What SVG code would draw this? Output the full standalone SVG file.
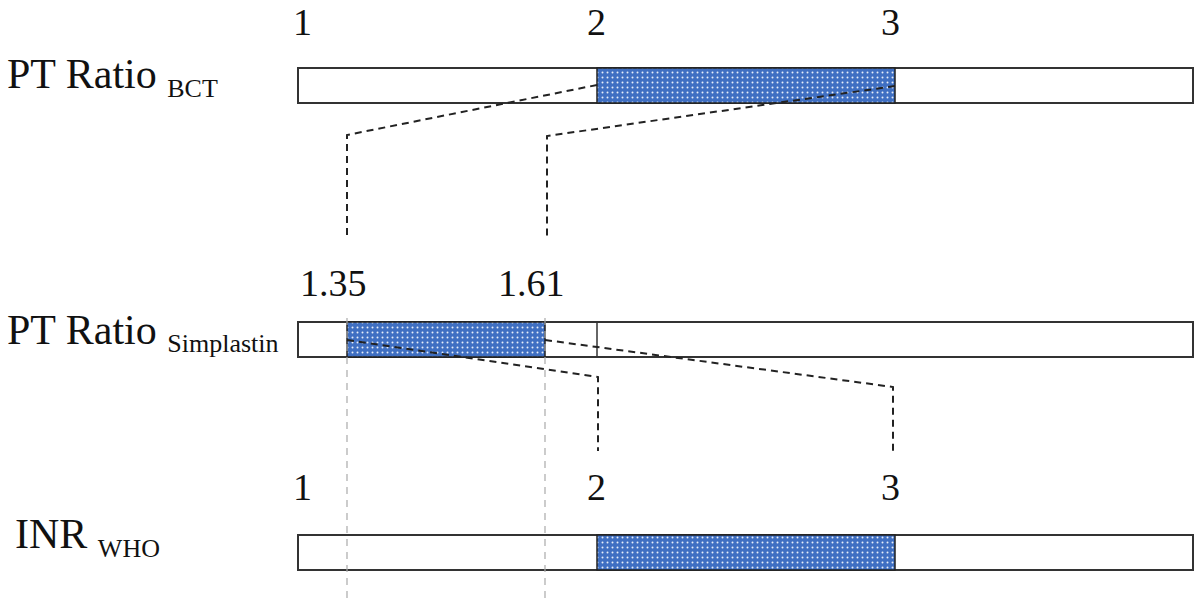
<svg xmlns="http://www.w3.org/2000/svg" width="1200" height="599" viewBox="0 0 1200 599">
<style>
.bar{fill:#fff;stroke:#333;stroke-width:2}
.fill{fill:url(#dots);stroke:#222;stroke-width:1.5}
.t{font-family:"Liberation Serif",serif;font-size:42px;fill:#111}
.n{font-family:"Liberation Serif",serif;font-size:38px;fill:#111}
.s{font-size:26px}
.dash{fill:none;stroke:#222;stroke-width:2;stroke-dasharray:7,5}
.gray{fill:none;stroke:#aaa;stroke-width:1.2;stroke-dasharray:7,6}
</style>
<defs>
<pattern id="dots" width="5" height="5" patternUnits="userSpaceOnUse">
<rect width="5" height="5" fill="#3f6fc2"/>
<circle cx="2.5" cy="2.5" r="1" fill="#e8eefa"/>
</pattern>
</defs>
<g id="labels">
<text class="t" x="7" y="88">PT Ratio <tspan class="s" dy="9">BCT</tspan></text>
<text class="t" x="7" y="344">PT Ratio <tspan class="s" dy="8">Simplastin</tspan></text>
<text class="t" x="15" y="548">INR <tspan class="s" dy="9">WHO</tspan></text>
</g>
<g id="bar-bct">
<rect class="bar" x="298" y="68" width="895" height="35"/>
<rect class="fill" x="597" y="68" width="298" height="35"/>
<text class="n" x="293" y="35">1</text>
<text class="n" x="587" y="35">2</text>
<text class="n" x="881" y="35">3</text>
</g>
<g id="bar-simplastin">
<rect class="bar" x="298" y="322" width="895" height="35"/>
<rect class="fill" x="347" y="322" width="198" height="35"/>
<line x1="597" y1="322" x2="597" y2="357" stroke="#333" stroke-width="1.5"/>
<text class="n" x="300" y="296">1.35</text>
<text class="n" x="498" y="296">1.61</text>
</g>
<g id="bar-inr">
<rect class="bar" x="298" y="535" width="895" height="35"/>
<rect class="fill" x="597" y="535" width="298" height="35"/>
<text class="n" x="293" y="500">1</text>
<text class="n" x="587" y="500">2</text>
<text class="n" x="881" y="500">3</text>
</g>
<g id="connectors">
<polyline class="dash" points="597,85 347,135 347,240"/>
<polyline class="dash" points="895,86 547,136 547,240"/>
<polyline class="dash" points="347,340 598,377 598,451"/>
<polyline class="dash" points="545,340 893,387 893,451"/>
<line class="gray" x1="347" y1="318" x2="347" y2="599"/>
<line class="gray" x1="545" y1="318" x2="545" y2="599"/>
</g>
</svg>
